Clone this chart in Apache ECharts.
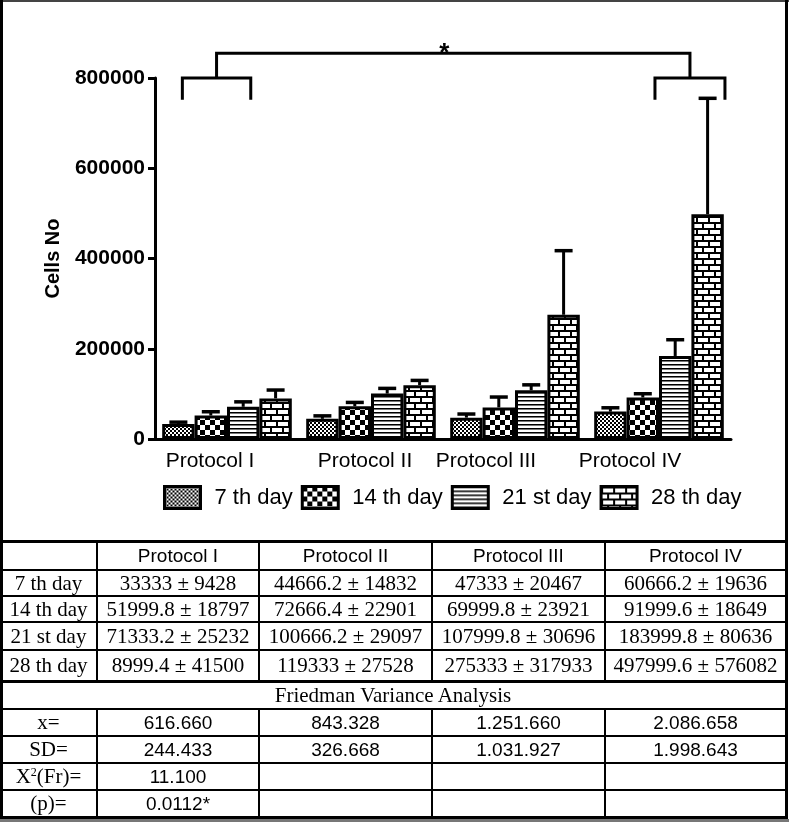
<!DOCTYPE html>
<html>
<head>
<meta charset="utf-8">
<script src="https://cdn.jsdelivr.net/npm/echarts@6/dist/echarts.min.js"></script>
<style>
  body { margin: 0; background: #fff; }
  #page { position: relative; width: 792px; height: 823px; overflow: hidden; }
  #chart { position: absolute; left: 0; top: 0; width: 792px; height: 541px; }
  .ln { position: absolute; background: #000; }
  .cell { position: absolute; display: flex; align-items: center; justify-content: center; white-space: nowrap; color: #000; }
  .serif { font-family: "Liberation Serif", "Times New Roman", serif; font-size: 21px; }
  .sans { font-family: "Liberation Sans", Arial, sans-serif; font-size: 19px; }
  sup { font-size: 12px; vertical-align: 7px; line-height: 0; }
</style>
</head>
<body>
<div id="page">
  <div id="chart"></div>
</div>
<script>
// chart data
const protocols = ['Protocol I', 'Protocol II', 'Protocol III', 'Protocol IV'];
const days = ['7 th day', '14 th day', '21 st day', '28 th day'];

const mean7 = [33333, 44666.2, 47333, 60666.2];
const mean14 = [51999.8, 72666.4, 69999.8, 91999.6];
const mean21 = [71333.2, 100666.2, 107999.8, 183999.8];
const mean28 = [89994, 119333, 275333, 497999.6];

// error bars as drawn (upper whisker only)
const err7 = [4000, 6600, 8000, 8500];
const err14 = [8400, 8400, 23000, 8300];
const err21 = [11000, 11500, 12000, 36000];
const err28 = [18500, 10500, 142000, 257000];

// table text
const tableHead = ['', 'Protocol I', 'Protocol II', 'Protocol III', 'Protocol IV'];
const row7 = ['33333 ± 9428', '44666.2 ± 14832', '47333 ± 20467', '60666.2 ± 19636'];
const row14 = ['51999.8 ± 18797', '72666.4 ± 22901', '69999.8 ± 23921', '91999.6 ± 18649'];
const row21 = ['71333.2 ± 25232', '100666.2 ± 29097', '107999.8 ± 30696', '183999.8 ± 80636'];
const row28 = ['8999.4 ± 41500', '119333 ± 27528', '275333 ± 317933', '497999.6 ± 576082'];
const statNames = ['x=', 'SD=', 'X<sup>2</sup>(Fr)=', '(p)='];
const statX = ['616.660', '843.328', '1.251.660', '2.086.658'];
const statSD = ['244.433', '326.668', '1.031.927', '1.998.643'];
const statFr = ['11.100', '', '', ''];
const statP = ['0.0112*', '', '', ''];

const means = [mean7, mean14, mean21, mean28];
const errs = [err7, err14, err21, err28];

// fill patterns
function makePattern(w, h, draw) {
  const c = document.createElement('canvas');
  c.width = w; c.height = h;
  const g = c.getContext('2d');
  g.fillStyle = '#fff';
  g.fillRect(0, 0, w, h);
  g.fillStyle = '#000';
  draw(g);
  return { image: c, repeat: 'repeat' };
}
const patterns = [
  makePattern(4, 4, g => { g.fillRect(0, 0, 2, 2); g.fillRect(2, 2, 2, 2); }),
  makePattern(10, 10, g => { g.fillRect(0, 0, 5, 5); g.fillRect(5, 5, 5, 5); }),
  makePattern(4, 4, g => { g.fillRect(0, 0, 4, 1); g.fillStyle = '#777'; g.fillRect(0, 1, 4, 1); }),
  makePattern(12, 12, g => {
    g.fillRect(0, 0, 12, 2); g.fillRect(0, 6, 12, 2);
    g.fillRect(0, 0, 2, 6); g.fillRect(6, 6, 2, 6);
  })
];

// x labels sit a little left of their group centre
const labelShift = [34, 12, 58, 58];
const rich = {};
labelShift.forEach((s, i) => {
  rich['p' + i] = { padding: [0, s, 0, 0], fontSize: 21, color: '#000', fontFamily: 'Liberation Sans' };
});

function errorItem(dayIdx) {
  return function (params, api) {
    const k = api.value(0), m = api.value(1), e = api.value(2);
    const band = api.size([1, 0])[0];
    const bw = band * 0.9 / 4;
    const base = api.coord([k, m]);
    const x = base[0] + (dayIdx - 1.5) * bw;
    const top = api.coord([k, m + e])[1];
    return {
      type: 'group',
      children: [
        { type: 'line', shape: { x1: x, y1: base[1], x2: x, y2: top }, style: { stroke: '#000', lineWidth: 3 } },
        { type: 'line', shape: { x1: x - 9, y1: top, x2: x + 9, y2: top }, style: { stroke: '#000', lineWidth: 3.5 } }
      ]
    };
  };
}

function bracketItem(params, api) {
  const band = api.size([1, 0])[0];
  const yy = v => api.coord([0, v])[1];
  const xc = k => api.coord([k, 0])[0];
  const l1 = xc(0) - 0.31 * band, l2 = xc(0) + 0.165 * band;
  const r1 = xc(3) - 0.028 * band, r2 = xc(3) + 0.458 * band;
  const yTop = yy(855000), yBar = yy(800000), yLeg = yy(752000);
  const ls = (l1 + l2) / 2, rs = (r1 + r2) / 2;
  const st = { stroke: '#000', lineWidth: 3, fill: null, lineJoin: 'miter' };
  return {
    type: 'group',
    children: [
      { type: 'polyline', shape: { points: [[l1, yLeg], [l1, yBar], [l2, yBar], [l2, yLeg]] }, style: st },
      { type: 'polyline', shape: { points: [[r1, yLeg], [r1, yBar], [r2, yBar], [r2, yLeg]] }, style: st },
      { type: 'polyline', shape: { points: [[ls, yBar], [ls, yTop], [rs, yTop], [rs, yBar]] }, style: st },
      { type: 'text', style: { text: '*', x: (ls + rs) / 2 - 9, y: yTop + 1, font: 'bold 26px "Liberation Sans"', fill: '#000', textAlign: 'center', textVerticalAlign: 'middle' } }
    ]
  };
}

const series = [];
days.forEach((d, i) => {
  series.push({
    name: d,
    type: 'bar',
    data: means[i],
    barGap: '0%',
    barCategoryGap: '10%',
    itemStyle: { color: patterns[i], borderColor: '#000', borderWidth: 3 },
    z: 2
  });
});
days.forEach((d, i) => {
  series.push({
    type: 'custom',
    data: protocols.map((p, k) => [k, means[i][k], errs[i][k]]),
    renderItem: errorItem(i),
    encode: { x: 0, y: 1 },
    silent: true,
    z: 3
  });
});
series.push({
  type: 'custom',
  data: [[0, 0]],
  renderItem: bracketItem,
  encode: { x: 0, y: 1 },
  clip: false,
  silent: true,
  z: 4
});

const chart = echarts.init(document.getElementById('chart'));
chart.setOption({
  animation: false,
  grid: { left: 155, right: 61, top: 78, bottom: 102 },
  legend: {
    data: days,
    left: 163,
    top: 485,
    padding: 0,
    icon: 'rect',
    itemWidth: 36,
    itemHeight: 22,
    itemGap: 8,
    selectedMode: false,
    itemStyle: { borderColor: '#000', borderWidth: 3 },
    textStyle: { fontSize: 22, color: '#000', fontFamily: 'Liberation Sans', padding: [0, 0, 0, 9] }
  },
  xAxis: {
    type: 'category',
    data: protocols,
    axisLine: { lineStyle: { color: '#000', width: 3 } },
    axisTick: { show: false },
    axisLabel: {
      interval: 0,
      hideOverlap: false,
      margin: 12,
      color: '#000',
      fontSize: 21,
      fontFamily: 'Liberation Sans',
      formatter: (v, i) => '{p' + i + '|' + v + '}',
      rich: rich
    }
  },
  yAxis: {
    type: 'value',
    min: 0,
    max: 800000,
    interval: 200000,
    name: 'Cells No',
    nameLocation: 'middle',
    nameGap: 92,
    nameTextStyle: { fontSize: 20, fontWeight: 'bold', color: '#000', fontFamily: 'Liberation Sans' },
    axisLine: { show: true, lineStyle: { color: '#000', width: 3 } },
    axisTick: { show: true, length: 7, lineStyle: { color: '#000', width: 3 } },
    axisLabel: {
      margin: 10, color: '#000', fontSize: 21, fontWeight: 'bold', fontFamily: 'Liberation Sans',
      formatter: v => String(v)
    },
    splitLine: { show: false }
  },
  series: series
});

// table below the chart
const page = document.getElementById('page');
const rowsY = [541, 570, 596, 622, 650, 681, 709, 736, 763, 790, 817];
const colsX = [0, 97, 259, 432, 605, 786];
const thick = [0, 5, 10];

function addLine(x, y, w, h, color) {
  const d = document.createElement('div');
  d.className = 'ln';
  d.style.left = x + 'px'; d.style.top = y + 'px';
  d.style.width = w + 'px'; d.style.height = h + 'px';
  if (color) d.style.background = color;
  page.appendChild(d);
}
function addCell(r, c, c2, html, cls) {
  const d = document.createElement('div');
  d.className = 'cell ' + cls;
  d.style.left = colsX[c] + 'px';
  d.style.width = (colsX[c2] - colsX[c]) + 'px';
  d.style.top = rowsY[r] + 'px';
  d.style.height = (rowsY[r + 1] - rowsY[r]) + 'px';
  d.innerHTML = '<span>' + html + '</span>';
  page.appendChild(d);
}

// frame
addLine(0, 0, 789, 2, '#444');
addLine(0, 0, 3, 820);
addLine(785, 0, 3, 820);
addLine(0, 819, 789, 3, '#777');

rowsY.forEach((y, i) => {
  const t = thick.includes(i) ? 3 : 2;
  addLine(0, y - Math.floor(t / 2), 788, t);
});
colsX.slice(1, -1).forEach(x => {
  addLine(x - 1, rowsY[0], 2, rowsY[5] - rowsY[0]);
  addLine(x - 1, rowsY[6], 2, rowsY[10] - rowsY[6]);
});

tableHead.forEach((t, c) => addCell(0, c, c + 1, t, 'sans'));
[row7, row14, row21, row28].forEach((row, r) => {
  addCell(r + 1, 0, 1, days[r], 'serif');
  row.forEach((t, c) => addCell(r + 1, c + 1, c + 2, t, 'serif'));
});
addCell(5, 0, 5, 'Friedman Variance Analysis', 'serif');
[statX, statSD, statFr, statP].forEach((row, r) => {
  addCell(r + 6, 0, 1, statNames[r], 'serif');
  row.forEach((t, c) => addCell(r + 6, c + 1, c + 2, t, 'sans'));
});
</script>
</body>
</html>
